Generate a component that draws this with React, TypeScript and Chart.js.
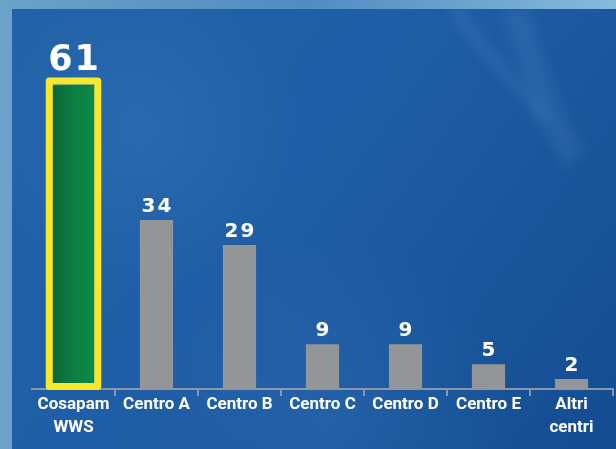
import React, { useEffect, useRef } from "react";
import { Chart, registerables } from "chart.js";

Chart.register(...registerables);

const categories: (string | string[])[] = [
  ["Cosapam", "WWS"],
  "Centro A",
  "Centro B",
  "Centro C",
  "Centro D",
  "Centro E",
  ["Altri", "centri"],
];
const highlightValues: (number | null)[] = [61, null, null, null, null, null, null];
const otherValues: (number | null)[] = [null, 34, 29, 9, 9, 5, 2];
const valueLabels: string[] = ["61", "34", "29", "9", "9", "5", "2"];

const bgPlugin = {
  id: "bgPlugin",
  beforeDraw(chart: any) {
    const { ctx, width, height } = chart;
    ctx.save();
    const og = ctx.createLinearGradient(0, 0, width, 0);
    og.addColorStop(0, "#6ba2c9");
    og.addColorStop(0.5, "#4f8cc0");
    og.addColorStop(1, "#86bbdc");
    ctx.fillStyle = og;
    ctx.fillRect(0, 0, width, height);
    const px = 12, py = 9;
    const g = ctx.createLinearGradient(px, py, width, height);
    g.addColorStop(0, "#2162a8");
    g.addColorStop(0.45, "#1f5ea6");
    g.addColorStop(1, "#144c90");
    ctx.fillStyle = g;
    ctx.fillRect(px, py, width - px, height - py);
    const r1 = ctx.createRadialGradient(140, 130, 0, 140, 130, 160);
    r1.addColorStop(0, "rgba(80,140,200,0.22)");
    r1.addColorStop(1, "rgba(80,140,200,0)");
    ctx.fillStyle = r1;
    ctx.fillRect(px, py, width - px, height - py);
    const r2 = ctx.createRadialGradient(330, 420, 0, 330, 420, 180);
    r2.addColorStop(0, "rgba(70,130,200,0.22)");
    r2.addColorStop(1, "rgba(70,130,200,0)");
    ctx.fillStyle = r2;
    ctx.fillRect(px, py, width - px, height - py);
    ctx.filter = "blur(6px)";
    ctx.strokeStyle = "rgba(110,165,220,0.14)";
    ctx.lineWidth = 26;
    ctx.beginPath();
    ctx.moveTo(515, py);
    ctx.bezierCurveTo(530, 60, 545, 110, 575, 160);
    ctx.stroke();
    ctx.lineWidth = 14;
    ctx.beginPath();
    ctx.moveTo(455, py);
    ctx.bezierCurveTo(480, 50, 515, 80, 545, 120);
    ctx.stroke();
    ctx.filter = "none";
    ctx.restore();
  },
};

const overlayPlugin = {
  id: "overlayPlugin",
  afterDatasetsDraw(chart: any) {
    const { ctx } = chart;
    ctx.save();
    const hm = chart.getDatasetMeta(0);
    hm.data.forEach((bar: any, i: number) => {
      if (highlightValues[i] == null) return;
      const w = bar.width;
      const lw = 7;
      const l = bar.x - w / 2 - lw / 2;
      const r = bar.x + w / 2 + lw / 2;
      const t = bar.y - lw / 2 - 1.5;
      const b = bar.base - 2.5;
      ctx.strokeStyle = "#f6e92c";
      ctx.lineWidth = lw;
      ctx.lineJoin = "round";
      ctx.beginPath();
      ctx.rect(l, t, r - l, b - t);
      ctx.stroke();
      ctx.fillStyle = "#ffffff";
      ctx.textAlign = "center";
      ctx.textBaseline = "alphabetic";
      ctx.font = "bold 35px 'DejaVu Sans'";
      (ctx as any).letterSpacing = "2px";
      ctx.fillText(valueLabels[i], bar.x + 1, t - lw / 2 - 7);
    });
    ctx.fillStyle = "#ffffff";
    ctx.textAlign = "center";
    ctx.textBaseline = "alphabetic";
    const om = chart.getDatasetMeta(1);
    om.data.forEach((bar: any, i: number) => {
      if (otherValues[i] == null) return;
      ctx.font = "bold 20px 'DejaVu Sans'";
      (ctx as any).letterSpacing = "2px";
      ctx.fillText(valueLabels[i], bar.x + 1, bar.y - 8);
    });
    ctx.restore();
  },
};

export default function App() {
  const ref = useRef<HTMLCanvasElement | null>(null);
  useEffect(() => {
    document.body.style.margin = "0";
    if (!ref.current) return;
    const chart = new Chart(ref.current, {
      type: "bar",
      data: {
        labels: categories as any,
        datasets: [
          {
            data: highlightValues,
            backgroundColor: (c: any) => {
              const xs = c.chart.scales?.x;
              if (!xs || xs.width === undefined) return "#0b7a3f";
              const cx = xs.getPixelForValue(0);
              const g = c.chart.ctx.createLinearGradient(cx - 21, 0, cx + 21, 0);
              g.addColorStop(0, "#0a6636");
              g.addColorStop(0.5, "#0c7e42");
              g.addColorStop(1, "#0e8a47");
              return g;
            },
            borderWidth: 0,
            barPercentage: 0.5,
            categoryPercentage: 1,
            grouped: false,
          } as any,
          {
            data: otherValues,
            backgroundColor: "#939598",
            borderWidth: 0,
            barPercentage: 0.4,
            categoryPercentage: 1,
            grouped: false,
          } as any,
        ],
      },
      options: {
        animation: false,
        responsive: false,
        maintainAspectRatio: false,
        layout: { padding: { left: 32, right: 3, top: 9, bottom: 0 } },
        plugins: { legend: { display: false }, tooltip: { enabled: false } },
        scales: {
          x: {
            offset: true,
            afterFit: (scale: any) => {
              scale.height = 60;
            },
            grid: {
              display: true,
              drawOnChartArea: false,
              offset: true,
              tickLength: 7,
              lineWidth: 2,
              color: (c: any) =>
                c.index === 0 || c.index === categories.length ? "rgba(0,0,0,0)" : "#8797ad",
            },
            border: { display: true, color: "#8797ad", width: 2 },
            ticks: {
              color: "#ffffff",
              padding: -3,
              maxRotation: 0,
              autoSkip: false,
              font: {
                family: "Roboto, 'DejaVu Sans Condensed', sans-serif",
                weight: "bold",
                size: 17,
                lineHeight: "23px",
              },
            },
          },
          y: {
            display: false,
            min: 0,
            max: 76.5,
          },
        },
      },
      plugins: [bgPlugin, overlayPlugin],
    });
    return () => chart.destroy();
  }, []);
  return (
    <div style={{ width: 616, height: 449 }}>
      <canvas ref={ref} width={616} height={449} style={{ display: "block", width: 616, height: 449 }} />
    </div>
  );
}
